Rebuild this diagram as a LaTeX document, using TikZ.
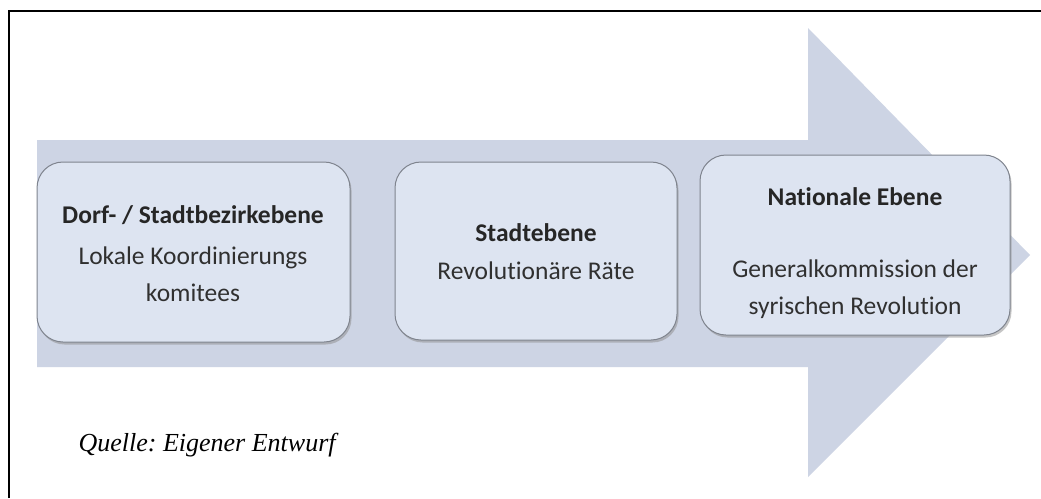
\documentclass[tikz,border=0pt]{standalone}
\usepackage{fontspec}
\setmainfont{Carlito}[Ligatures=NoCommon]
\newfontfamily\quellefont{Liberation Serif}
\usetikzlibrary{shadows}
\definecolor{arrowfill}{HTML}{CDD4E4}
\definecolor{boxfill}{HTML}{DDE4F1}
\definecolor{boxline}{HTML}{7F848E}
\definecolor{txt}{HTML}{303030}
\frenchspacing
\begin{document}
\begin{tikzpicture}[x=1pt,y=-1pt,
  levelbox/.style={draw=boxline, line width=1pt, fill=boxfill, rounded corners=26pt,
    drop shadow={shadow xshift=1.5pt, shadow yshift=-2.5pt, fill=black!45, opacity=0.5}},
  lbl/.style={font=\fontsize{25.5}{37}\selectfont, text=txt, align=center},
  hd/.style={font=\fontsize{25.5}{37}\selectfont\bfseries, text=black!85}]
\useasboundingbox (0,0) rectangle (1041,498);
\fill[white] (0,0) rectangle (1041,498);
% frame
\draw[line width=1.3pt] (9,498) -- (9,11) -- (1041,11);
% big arrow
\fill[arrowfill] (37,140) -- (808,140) -- (808,28) -- (1030,255) -- (808,477) -- (808,367) -- (37,367) -- cycle;
% boxes
\path[levelbox] (37,162) rectangle (350,342);
\path[levelbox] (395,162) rectangle (677,340);
\path[levelbox] (700,155) rectangle (1010,335);
\node[hd] (h1) at (193,215) {Dorf- / Stadtbezirkebene};
\node[lbl] (t1) at (193,274) {Lokale Koordinierungs\\komitees};
\node[hd] (h2) at (536,233) {Stadtebene};
\node[lbl] (t2) at (536,271) {Revolutionäre Räte};
\node[hd] (h3) at (855,197) {Nationale Ebene};
\node[lbl] (t3) at (855,289) {Generalkommission der\\syrischen Revolution};
\node[font=\quellefont\itshape\fontsize{26}{30}\selectfont, anchor=west] (q) at (75,445) {Quelle: Eigener Entwurf};
\end{tikzpicture}
\end{document}
